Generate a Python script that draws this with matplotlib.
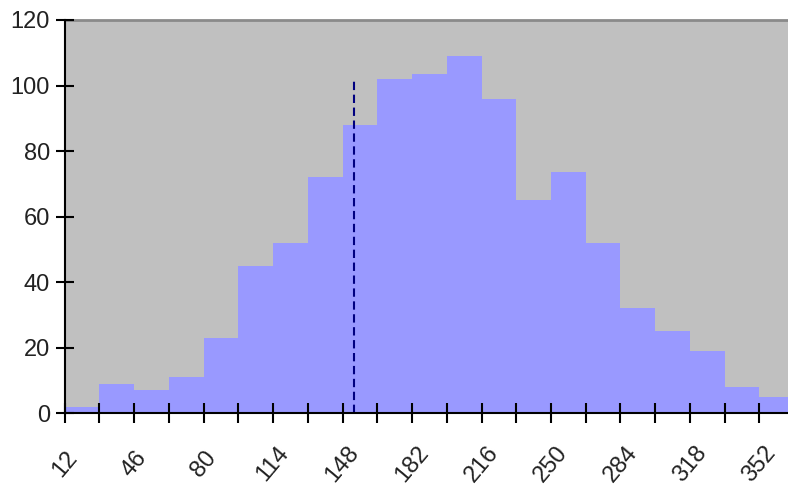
import matplotlib
matplotlib.use("Agg")
import matplotlib.pyplot as plt
import matplotlib.transforms as mtransforms
import numpy as np

# Data
bin_starts = [12, 29, 46, 63, 80, 97, 114, 131, 148, 165, 182, 199, 216, 233,
              250, 267, 284, 301, 318, 335, 352]
counts = [2, 9, 7, 11, 23, 45, 52, 72, 88, 102, 103.5, 109, 96, 65,
          73.5, 52, 32, 25, 19, 8, 5]
bin_width = 17
tick_labels = ["12", "46", "80", "114", "148", "182", "216", "250", "284", "318", "352"]
marker_x = 153.6
marker_top = 102

fam = ["Liberation Sans", "DejaVu Sans"]

fig = plt.figure(figsize=(7.88, 4.95), dpi=100)
ax = fig.add_axes([0.0821, 0.165, 1 - 0.0821, 0.9596 - 0.165])
ax.set_facecolor("#C0C0C0")

ax.bar(bin_starts, counts, width=bin_width, align="edge", color="#9999FF",
       linewidth=0, zorder=2)
ax.plot([marker_x, marker_x], [0, marker_top], color="#000080", lw=1.5,
        dashes=(4, 2.2), zorder=3)

ax.set_xlim(12, 366)
ax.set_ylim(0, 120)

all_ticks = bin_starts
ax.set_xticks(all_ticks)
labels = []
for t in all_ticks:
    labels.append(str(t) if str(t) in tick_labels else "")
ax.set_xticklabels(labels, rotation=50, ha="center", va="center",
                   rotation_mode="anchor", family=fam, fontsize=17, color="#222222")
offset = mtransforms.ScaledTranslation(-4 / 100, 0, fig.dpi_scale_trans)
for lab in ax.get_xticklabels():
    lab.set_transform(lab.get_transform() + offset)
ax.set_yticks(np.arange(0, 121, 20))
ax.set_yticklabels([str(v) for v in range(0, 121, 20)], family=fam, fontsize=17,
                   color="#222222")

ax.tick_params(axis="x", direction="inout", length=15, width=1.5, pad=29)
ax.tick_params(axis="y", direction="inout", length=13, width=1.5, pad=4)

for s in ["left", "bottom"]:
    ax.spines[s].set_color("black")
    ax.spines[s].set_linewidth(1.5)
    ax.spines[s].set_zorder(5)
ax.spines["top"].set_color("#8a8a8a")
ax.spines["top"].set_linewidth(2)
ax.spines["right"].set_visible(False)
ax.set_axisbelow(False)

fig.savefig("out.png", dpi=100)
